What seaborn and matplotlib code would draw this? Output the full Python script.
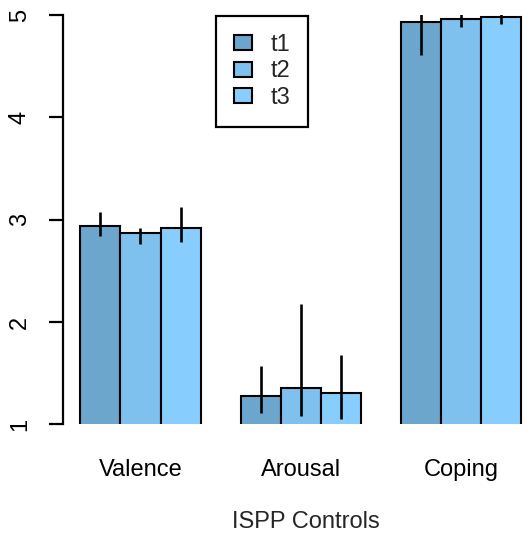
import numpy as np
import pandas as pd
import matplotlib
matplotlib.use("Agg")
import matplotlib.pyplot as plt
import seaborn as sns

# ---- data ----
categories = ["Valence", "Arousal", "Coping"]
times = ["t1", "t2", "t3"]
means_t1 = [2.94, 1.28, 4.93]
means_t2 = [2.87, 1.35, 4.96]
means_t3 = [2.92, 1.31, 4.98]
lower_t1 = [2.84, 1.11, 4.61]
lower_t2 = [2.76, 1.08, 4.88]
lower_t3 = [2.78, 1.05, 4.91]
upper_t1 = [3.07, 1.57, 5.03]
upper_t2 = [2.92, 2.18, 5.03]
upper_t3 = [3.12, 1.68, 5.03]
colors = ["#6CA6CD", "#7EC0EE", "#87CEFF"]
yticks = [1, 2, 3, 4, 5]
xlabel = "ISPP Controls"

means = [means_t1, means_t2, means_t3]
lowers = [lower_t1, lower_t2, lower_t3]
uppers = [upper_t1, upper_t2, upper_t3]

df = pd.DataFrame({
    "category": [c for t in times for c in categories],
    "time": [t for t in times for c in categories],
    "value": [v for m in means for v in m],
})

sns.set_style("white")
plt.rcParams["font.family"] = ["Liberation Sans", "DejaVu Sans"]

W, H = 532, 541
fig = plt.figure(figsize=(W / 100, H / 100), dpi=100)
left_px, right_px = 62.8, 538.6
top_px, bot_px = 15.0, 424.3
ax = fig.add_axes([left_px / W, (H - bot_px) / H,
                   (right_px - left_px) / W, (bot_px - top_px) / H])

sns.barplot(data=df, x="category", y="value", hue="time", order=categories,
            hue_order=times, palette=colors, saturation=1, width=0.75,
            edgecolor="black", linewidth=1.5, errorbar=None, ax=ax)

# error bars
for i, cont in enumerate(ax.containers):
    xs = [b.get_x() + b.get_width() / 2 for b in cont]
    ax.vlines(xs, lowers[i], uppers[i], color="black", linewidth=1.9, zorder=5)

ax.set_xlim(-0.485, 2.485)
ax.set_ylim(1, 5)
ax.set_yticks(yticks)
ax.set_yticklabels([str(t) for t in yticks])

for s in ["top", "right", "bottom"]:
    ax.spines[s].set_visible(False)
ax.spines["left"].set_linewidth(1.6)
ax.spines["left"].set_color("black")
ax.spines["left"].set_bounds(1, 5)

fs = 17
ax.tick_params(axis="y", length=10, width=1.6, pad=13, labelsize=fs,
               labelrotation=90, colors="black", left=True)
ax.tick_params(axis="x", length=0, pad=25, labelsize=fs, colors="black")
for lab in ax.get_yticklabels():
    lab.set_va("center")
ax.set_ylabel("")
ax.set_xlabel(xlabel, fontsize=fs)
ax.xaxis.set_label_coords((306 - left_px) / (right_px - left_px),
                          -(511 - bot_px) / (bot_px - top_px))

leg = ax.legend(loc="upper left",
                bbox_to_anchor=((216 - left_px) / (right_px - left_px), 0.998),
                borderaxespad=0, fontsize=fs, frameon=True, fancybox=False,
                framealpha=1, edgecolor="black", handlelength=0.76,
                handleheight=0.6, handletextpad=0.76, labelspacing=0.18,
                borderpad=0.78, title=None)
leg.get_frame().set_linewidth(1.6)
for p in leg.get_patches():
    p.set_edgecolor("black")
    p.set_linewidth(1.5)

fig.savefig("out.png", dpi=100)
